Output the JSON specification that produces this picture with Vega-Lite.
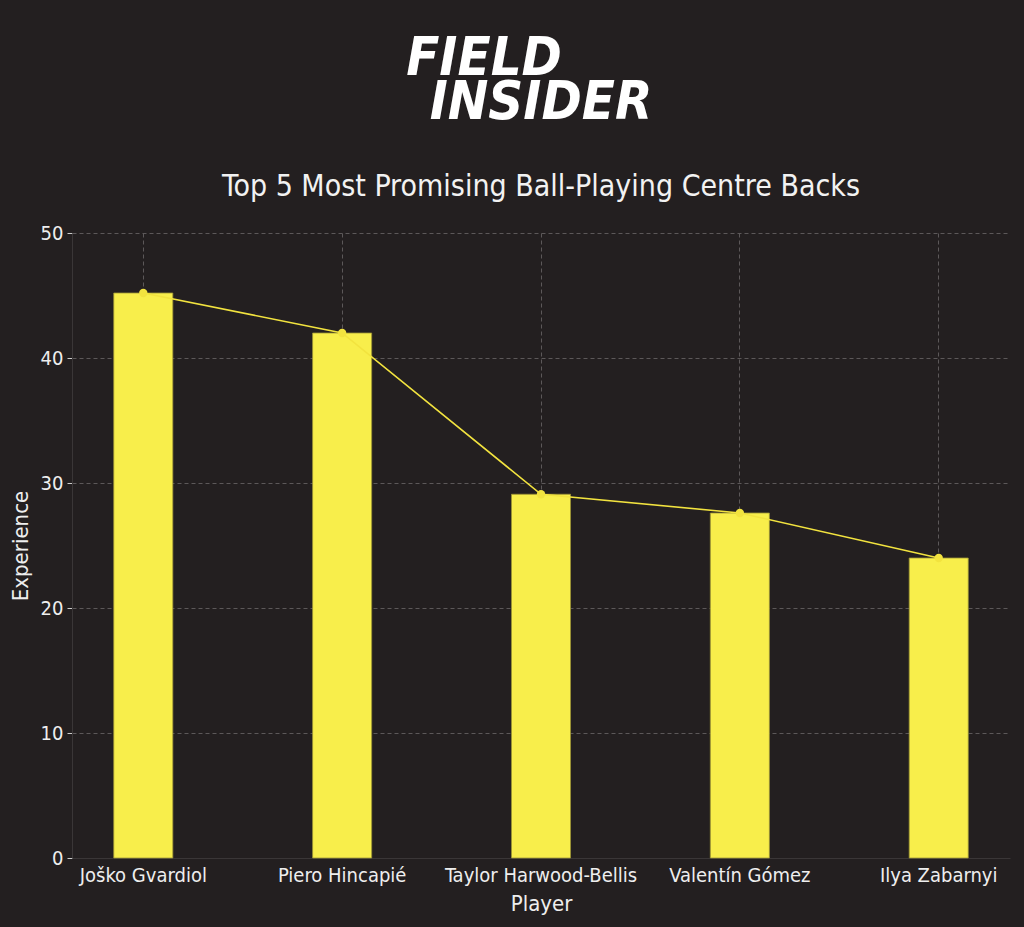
{
  "$schema": "https://vega.github.io/schema/vega-lite/v6.json",
  "description": "Top 5 most promising ball-playing centre backs, bar plus line of experience",
  "width": 938,
  "height": 625,
  "autosize": {"type": "none"},
  "padding": {"left": 72, "top": 233, "right": 14, "bottom": 69},
  "background": "#231f20",
  "data": {
    "values": [
      {"player": "Joško Gvardiol", "experience": 45.2},
      {"player": "Piero Hincapié", "experience": 42.0},
      {"player": "Taylor Harwood-Bellis", "experience": 29.1},
      {"player": "Valentín Gómez", "experience": 27.6},
      {"player": "Ilya Zabarnyi", "experience": 24.0}
    ]
  },
  "title": {
    "text": ["FIELD\u2800\u2800\u2800", "INSIDER"],
    "subtitle": "Top 5 Most Promising Ball-Playing Centre Backs",
    "anchor": "middle",
    "font": "DejaVu Sans Condensed",
    "fontSize": 54,
    "fontWeight": "bold",
    "fontStyle": "italic",
    "lineHeight": 44,
    "color": "#ffffff",
    "subtitleFont": "DejaVu Sans Condensed",
    "subtitleFontSize": 30,
    "subtitleColor": "#f2f2f2",
    "subtitlePadding": 42,
    "offset": 21
  },
  "encoding": {
    "x": {
      "field": "player",
      "type": "nominal",
      "sort": null,
      "title": "Player",
      "scale": {"paddingInner": 0.703, "paddingOuter": 0.21},
      "axis": {"bandPosition": 0.5}
    },
    "y": {
      "field": "experience",
      "type": "quantitative",
      "title": "Experience",
      "scale": {"domain": [0, 50]},
      "axis": {"values": [0, 10, 20, 30, 40, 50]}
    }
  },
  "layer": [
    {
      "mark": {"type": "bar", "color": "#f8ee4b", "stroke": "#9c9435", "strokeWidth": 0.8}
    },
    {
      "mark": {"type": "line", "color": "#f2e33f", "strokeWidth": 1.6}
    },
    {
      "mark": {"type": "point", "filled": true, "color": "#f2e33f", "size": 70, "opacity": 1}
    }
  ],
  "config": {
    "view": {"stroke": null},
    "axis": {
      "labelFont": "DejaVu Sans Condensed",
      "labelFontSize": 20,
      "labelLimit": 0,
      "labelColor": "#eeeeee",
      "titleFont": "DejaVu Sans Condensed",
      "titleFontSize": 22,
      "titleFontWeight": "normal",
      "titleColor": "#eeeeee",
      "domainColor": "#3a3637",
      "tickColor": "#cccccc",
      "tickSize": 5,
      "grid": true,
      "gridColor": "#5c5859",
      "gridDash": [4, 3],
      "gridWidth": 1
    },
    "axisX": {"labelAngle": 0, "labelPadding": 7, "titlePadding": 8, "ticks": false},
    "axisY": {"labelPadding": 4, "titlePadding": 8}
  }
}
